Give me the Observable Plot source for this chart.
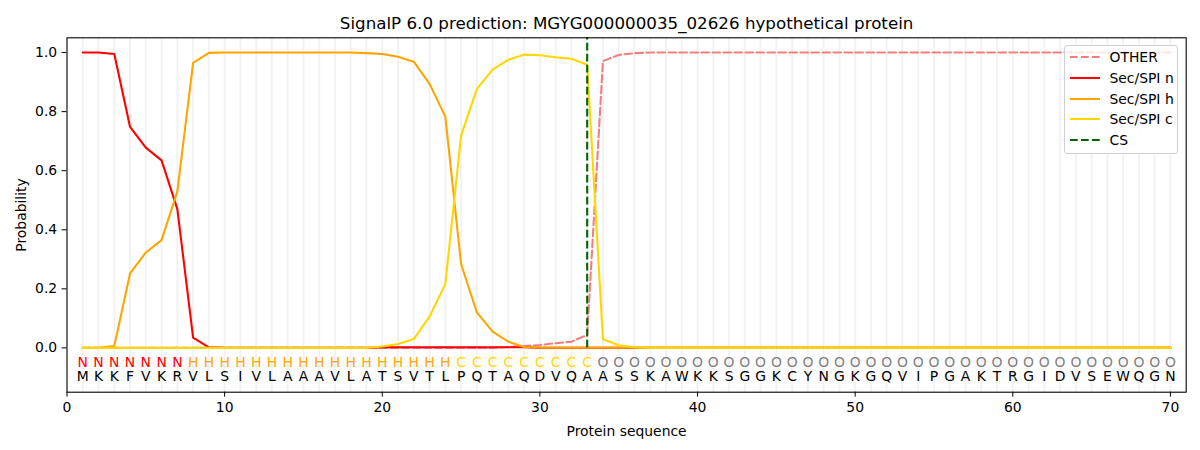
<!DOCTYPE html>
<html>
<head>
<meta charset="utf-8">
<script src="https://cdn.jsdelivr.net/npm/d3@7"></script>
<script src="https://cdn.jsdelivr.net/npm/@observablehq/plot@0.6"></script>
<style>
  body { margin: 0; background: #fff; font-family: "DejaVu Sans", sans-serif; }
  #wrap { position: relative; width: 1200px; height: 450px; }
  #legend {
    position: absolute; left: 1064px; top: 44.5px; width: 114px; height: 109px;
    box-sizing: border-box; border: 1px solid #d0d0d0; border-radius: 3px;
    background: rgba(255,255,255,0.8); font-size: 13.9px; color: #000;
  }
  .item { position: absolute; left: 0; height: 20px; display: flex; align-items: center; }
  .item svg { margin-left: 4.5px; margin-right: 10px; }
</style>
</head>
<body>
<div id="wrap"></div>
<script>
const title = "SignalP 6.0 prediction: MGYG000000035_02626 hypothetical protein";

const positions = d3.range(1, 71);

const residues = ["M","K","K","F","V","K","R","V","L","S","I","V","L","A","A","A","V","L","A","T",
  "S","V","T","L","P","Q","T","A","Q","D","V","Q","A","A","S","S","K","A","W","K",
  "K","S","G","G","K","C","Y","N","G","K","G","Q","V","I","P","G","A","K","T","R",
  "G","I","D","V","S","E","W","Q","G","N"];

const regions = ["N","N","N","N","N","N","N",
  "H","H","H","H","H","H","H","H","H","H","H","H","H","H","H","H","H",
  "C","C","C","C","C","C","C","C","C",
  "O","O","O","O","O","O","O","O","O","O","O","O","O","O","O","O","O","O","O","O",
  "O","O","O","O","O","O","O","O","O","O","O","O","O","O","O","O","O"];

const regionKeys = ["N", "H", "C", "O"];
const regionColors = ["#ff0000", "#ffa500", "#ffd700", "#808080"];

const other = [0,0,0,0,0,0,0,0,0,0,0,0,0,0,0,0,0,0,0,0,0,0,0,0,0,0,0,
  0.003,0.006,0.010,0.016,0.021,0.044,
  0.971,0.992,0.998,
  1,1,1,1,1,1,1,1,1,1,1,1,1,1,1,1,1,1,1,1,1,1,1,1,1,1,1,1,1,1,1,1,1,1];

const secN = [1.0,1.0,0.995,0.748,0.678,0.635,0.47,0.035,0.002,
  0,0,0,0,0,0,0,0,0,0,
  0.002,0.002,0.002,0.002,0.002,0.002,0.002,0.002,0.002,0.002,
  0,0,0,0,0,0,0,0,0,0,0,0,0,0,0,0,0,0,0,0,0,0,0,0,0,0,0,0,0,0,0,0,0,0,0,0,0,0,0,0,0];

const secH = [0,0,0.006,0.252,0.323,0.365,0.53,0.965,0.999,
  1,1,1,1,1,1,1,1,1,
  0.998,0.995,0.986,0.969,0.894,0.783,0.284,0.12,0.055,0.021,0.003,
  0.001,0.001,0.001,0.001,0.001,0.001,0.001,0.001,0.001,0.001,0.001,0.001,0.001,0.001,0.001,0.001,
  0.001,0.001,0.001,0.001,0.001,0.001,0.001,0.001,0.001,0.001,0.001,0.001,0.001,0.001,0.001,0.001,
  0.001,0.001,0.001,0.001,0.001,0.001,0.001,0.001,0.001];

const secC = [0,0,0,0,0,0,0,0,0,0,0,0,0,0,0,0,0,0,0,
  0.005,0.013,0.03,0.106,0.216,0.719,0.877,0.942,0.976,0.993,0.991,0.984,0.979,0.959,0.029,0.009,0.002,
  0,0,0,0,0,0,0,0,0,0,0,0,0,0,0,0,0,0,0,0,0,0,0,0,0,0,0,0,0,0,0,0,0,0];

const csPosition = [33];

const xTicks = [0, 10, 20, 30, 40, 50, 60, 70];
const yTicks = [0, 0.2, 0.4, 0.6, 0.8, 1.0];

const series = [
  {name: "OTHER", values: other, color: "#f08080", dash: "7.7 3.3"},
  {name: "Sec/SPI n", values: secN, color: "#ff0000", dash: null},
  {name: "Sec/SPI h", values: secH, color: "#ffa500", dash: null},
  {name: "Sec/SPI c", values: secC, color: "#ffd700", dash: null}
];
const csStyle = {name: "CS", color: "#006400", dash: "7.7 3.3"};

const lw = 2.08;

const chart = Plot.plot({
  width: 1200,
  height: 450,
  marginLeft: 66.5,
  marginRight: 14.3,
  marginTop: 37.3,
  marginBottom: 58.3,
  style: {fontFamily: "DejaVu Sans", fontSize: "13.9px", background: "#fff", color: "#000"},
  x: {domain: [0, 71]},
  y: {domain: [-0.15, 1.05]},
  color: {domain: regionKeys, range: regionColors},
  marks: [
    Plot.ruleX(positions, {x: d => d, stroke: "#000", strokeOpacity: 0.05, strokeWidth: 2}),
    ...series.map(s => Plot.line(s.values, {
      x: (d, i) => positions[i], y: d => d,
      stroke: s.color, strokeWidth: lw, strokeDasharray: s.dash, curve: "linear"
    })),
    Plot.ruleX(csPosition, {x: d => d, y1: 0, y2: 1.05, stroke: csStyle.color, strokeWidth: lw, strokeDasharray: csStyle.dash}),
    Plot.text(regions, {x: (d, i) => positions[i], y: -0.049, text: d => d, fill: d => d, lineAnchor: "middle", fontSize: 13.9}),
    Plot.text(residues, {x: (d, i) => positions[i], y: -0.096, text: d => d, fill: "#000", lineAnchor: "middle", fontSize: 13.9}),
    Plot.frame({stroke: "#000", strokeWidth: 1.1}),
    Plot.axisX({ticks: xTicks, tickFormat: d => String(d), tickSize: 4.9, tickPadding: 4.9,
      label: "Protein sequence", labelAnchor: "center", labelArrow: "none", labelOffset: 44}),
    Plot.axisY({ticks: yTicks, tickFormat: d3.format(".1f"), tickSize: 4.9, tickPadding: 4.9,
      label: "Probability", labelAnchor: "center", labelArrow: "none", labelOffset: 51}),
    Plot.text([title], {frameAnchor: "top", dy: -14.5, text: d => d, fontSize: 16.7, lineAnchor: "middle", fill: "#000"})
  ]
});

const wrap = document.getElementById("wrap");
wrap.appendChild(chart);

const legend = document.createElement("div");
legend.id = "legend";
const entries = [...series, csStyle];
entries.forEach((s, i) => {
  const item = document.createElement("div");
  item.className = "item";
  item.style.top = (1.5 + i * 20.8) + "px";
  const dash = s.dash ? `stroke-dasharray="${s.dash}"` : "";
  item.innerHTML = `<svg width="30" height="6"><line x1="0" y1="3" x2="30" y2="3" stroke="${s.color}" stroke-width="${lw}" ${dash}/></svg><span>${s.name}</span>`;
  legend.appendChild(item);
});
wrap.appendChild(legend);
</script>
</body>
</html>
